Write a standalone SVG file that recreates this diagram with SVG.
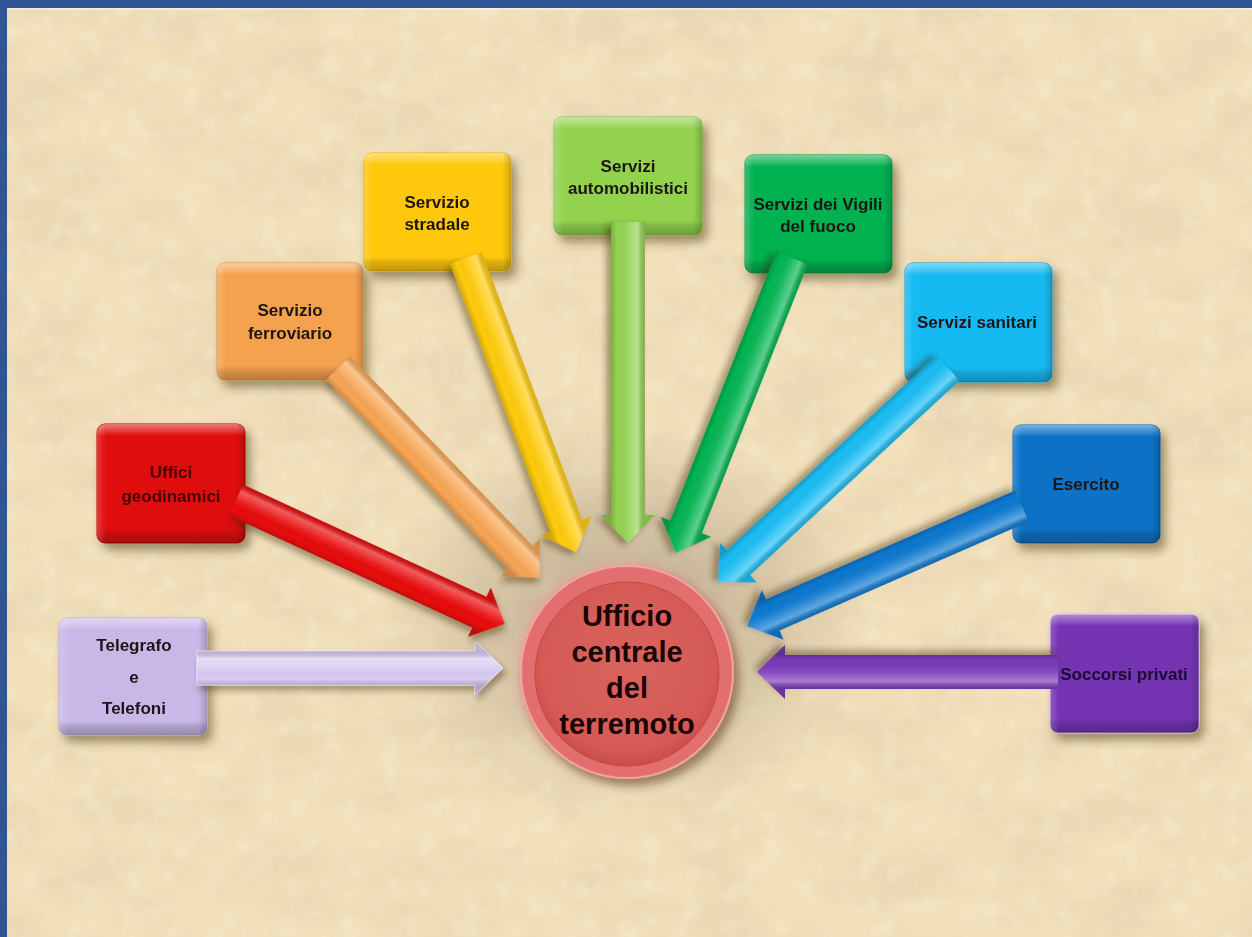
<svg xmlns="http://www.w3.org/2000/svg" width="1252" height="937" viewBox="0 0 1252 937">
<defs>
<filter id="paper" x="0" y="0" width="100%" height="100%">
<feTurbulence type="fractalNoise" baseFrequency="0.012 0.02" numOctaves="4" seed="7"/>
<feColorMatrix type="matrix" values="0 0 0 0 0.80  0 0 0 0 0.66  0 0 0 0 0.44  1.7 0 0 0 -0.62"/>
</filter>
<filter id="speck" x="0" y="0" width="100%" height="100%">
<feTurbulence type="fractalNoise" baseFrequency="0.05" numOctaves="2" seed="2"/>
<feColorMatrix type="matrix" values="0 0 0 0 1  0 0 0 0 0.98  0 0 0 0 0.9  2.0 0 0 0 -1.0"/>
</filter>
<filter id="shadow" x="-20%" y="-20%" width="150%" height="150%">
<feDropShadow dx="5" dy="7" stdDeviation="5" flood-color="#3a2a10" flood-opacity="0.45"/>
</filter>
<filter id="ashadow" x="-20%" y="-50%" width="140%" height="200%">
<feDropShadow dx="3" dy="5" stdDeviation="3" flood-color="#3a2a10" flood-opacity="0.4"/>
</filter>
<radialGradient id="halo" cx="0.5" cy="0.5" r="0.5">
<stop offset="0" stop-color="#8c7a66" stop-opacity="0.55"/>
<stop offset="0.6" stop-color="#a08e78" stop-opacity="0.3"/>
<stop offset="1" stop-color="#b8a488" stop-opacity="0"/>
</radialGradient>
<radialGradient id="glow" cx="0.5" cy="0.5" r="0.5">
<stop offset="0.8" stop-color="#f08a8a" stop-opacity="0.7"/>
<stop offset="1" stop-color="#f3a0a0" stop-opacity="0"/>
</radialGradient>
<radialGradient id="inner" cx="0.5" cy="0.45" r="0.55">
<stop offset="0" stop-color="#d9635e"/>
<stop offset="0.85" stop-color="#d55a55"/>
<stop offset="1" stop-color="#c94c48"/>
</radialGradient>
<linearGradient id="bevelV" x1="0" y1="0" x2="0" y2="1">
<stop offset="0" stop-color="#fff" stop-opacity="0.45"/>
<stop offset="0.07" stop-color="#fff" stop-opacity="0.15"/>
<stop offset="0.1" stop-color="#fff" stop-opacity="0"/>
<stop offset="0.88" stop-color="#000" stop-opacity="0"/>
<stop offset="0.92" stop-color="#000" stop-opacity="0.12"/>
<stop offset="1" stop-color="#000" stop-opacity="0.25"/>
</linearGradient>
<linearGradient id="bevelH" x1="0" y1="0" x2="1" y2="0">
<stop offset="0" stop-color="#fff" stop-opacity="0.2"/>
<stop offset="0.06" stop-color="#fff" stop-opacity="0"/>
<stop offset="0.94" stop-color="#000" stop-opacity="0"/>
<stop offset="1" stop-color="#000" stop-opacity="0.18"/>
</linearGradient>
<linearGradient id="shaft" gradientUnits="userSpaceOnUse" x1="0" y1="-27" x2="0" y2="27">
<stop offset="0.18" stop-color="#000" stop-opacity="0.12"/>
<stop offset="0.32" stop-color="#fff" stop-opacity="0.35"/>
<stop offset="0.5" stop-color="#fff" stop-opacity="0.1"/>
<stop offset="0.7" stop-color="#000" stop-opacity="0"/>
<stop offset="0.82" stop-color="#000" stop-opacity="0.18"/>
</linearGradient>
</defs>
<style>
.lbl{font-family:"Liberation Sans",Arial,sans-serif;font-weight:bold;font-size:17px;text-anchor:middle;fill:#1c1414}
.big{font-family:"Liberation Sans",Arial,sans-serif;font-weight:bold;font-size:29px;text-anchor:middle;fill:#1a0404}
.ov{fill:url(#shaft)}
</style>

<!-- background -->
<rect x="0" y="0" width="1252" height="937" fill="#F1E0BA"/>
<rect x="0" y="0" width="1252" height="937" filter="url(#paper)"/>
<rect x="0" y="0" width="1252" height="937" filter="url(#speck)" opacity="0.3"/>
<ellipse cx="627" cy="620" rx="250" ry="200" fill="url(#halo)"/>
<rect x="0" y="0" width="1252" height="8" fill="#2F5597"/>
<rect x="0" y="0" width="7" height="937" fill="#2F5597"/>
<rect x="7" y="8" width="1245" height="1.5" fill="#fff" opacity="0.5"/>

<!-- central node -->
<g id="node-centrale">
<circle cx="627" cy="672" r="118" fill="url(#glow)"/>
<circle cx="627" cy="672" r="106" fill="#E26E6D" stroke="#F4A3A3" stroke-width="2" filter="url(#shadow)"/>
<circle cx="627" cy="674" r="92" fill="url(#inner)" stroke="#c44a46" stroke-width="1"/>
<text class="big" x="627" y="626">Ufficio</text>
<text class="big" x="627" y="662">centrale</text>
<text class="big" x="627" y="698">del</text>
<text class="big" x="627" y="734">terremoto</text>
</g>

<!-- nodes -->
<g id="node-telegrafo" filter="url(#shadow)">
<rect x="59" y="618" width="148" height="117" rx="8" fill="#C8B8E8" stroke="#b8a6dc"/>
<rect x="59" y="618" width="148" height="117" rx="8" fill="url(#bevelV)"/>
<rect x="59" y="618" width="148" height="117" rx="8" fill="url(#bevelH)"/>
<text class="lbl" x="134" y="651">Telegrafo</text>
<text class="lbl" x="134" y="683">e</text>
<text class="lbl" x="134" y="714">Telefoni</text>
</g>
<g id="node-geodinamici" filter="url(#shadow)">
<rect x="97" y="424" width="148" height="119" rx="8" fill="#E00C0C" stroke="#c00000"/>
<rect x="97" y="424" width="148" height="119" rx="8" fill="url(#bevelV)"/>
<rect x="97" y="424" width="148" height="119" rx="8" fill="url(#bevelH)"/>
<text class="lbl" x="171" y="478" style="fill:#4a0404">Uffici</text>
<text class="lbl" x="171" y="502" style="fill:#4a0404">geodinamici</text>
</g>
<g id="node-ferroviario" filter="url(#shadow)">
<rect x="217" y="263" width="146" height="117" rx="8" fill="#F5A24F" stroke="#e08f3c"/>
<rect x="217" y="263" width="146" height="117" rx="8" fill="url(#bevelV)"/>
<rect x="217" y="263" width="146" height="117" rx="8" fill="url(#bevelH)"/>
<text class="lbl" x="290" y="316">Servizio</text>
<text class="lbl" x="290" y="339">ferroviario</text>
</g>
<g id="node-stradale" filter="url(#shadow)">
<rect x="364" y="153" width="147" height="118" rx="8" fill="#FFC80A" stroke="#e8b000"/>
<rect x="364" y="153" width="147" height="118" rx="8" fill="url(#bevelV)"/>
<rect x="364" y="153" width="147" height="118" rx="8" fill="url(#bevelH)"/>
<text class="lbl" x="437" y="208">Servizio</text>
<text class="lbl" x="437" y="230">stradale</text>
</g>
<g id="node-automobilistici" filter="url(#shadow)">
<rect x="554" y="117" width="148" height="118" rx="8" fill="#92D24E" stroke="#7fc03c"/>
<rect x="554" y="117" width="148" height="118" rx="8" fill="url(#bevelV)"/>
<rect x="554" y="117" width="148" height="118" rx="8" fill="url(#bevelH)"/>
<text class="lbl" x="628" y="172">Servizi</text>
<text class="lbl" x="628" y="194">automobilistici</text>
</g>
<g id="node-vigili" filter="url(#shadow)">
<rect x="745" y="155" width="147" height="118" rx="8" fill="#03B150" stroke="#009a40"/>
<rect x="745" y="155" width="147" height="118" rx="8" fill="url(#bevelV)"/>
<rect x="745" y="155" width="147" height="118" rx="8" fill="url(#bevelH)"/>
<text class="lbl" x="818" y="210">Servizi dei Vigili</text>
<text class="lbl" x="818" y="232">del fuoco</text>
</g>
<g id="node-sanitari" filter="url(#shadow)">
<rect x="905" y="263" width="147" height="119" rx="8" fill="#18BAF2" stroke="#00a5e0"/>
<rect x="905" y="263" width="147" height="119" rx="8" fill="url(#bevelV)"/>
<rect x="905" y="263" width="147" height="119" rx="8" fill="url(#bevelH)"/>
<text class="lbl" x="977" y="328">Servizi sanitari</text>
</g>
<g id="node-esercito" filter="url(#shadow)">
<rect x="1013" y="425" width="147" height="118" rx="8" fill="#0A72C6" stroke="#0062b0"/>
<rect x="1013" y="425" width="147" height="118" rx="8" fill="url(#bevelV)"/>
<rect x="1013" y="425" width="147" height="118" rx="8" fill="url(#bevelH)"/>
<text class="lbl" x="1086" y="490">Esercito</text>
</g>
<g id="node-soccorsi" filter="url(#shadow)">
<rect x="1050" y="614" width="149" height="119" rx="8" fill="#7434B2" stroke="#dcb8f0"/>
<rect x="1050" y="614" width="149" height="119" rx="8" fill="url(#bevelV)"/>
<rect x="1050" y="614" width="149" height="119" rx="8" fill="url(#bevelH)"/>
<text class="lbl" x="1124" y="680" style="fill:#1e0a30">Soccorsi privati</text>
</g>

<!-- connectors -->
<g id="connectors">
<g transform="translate(197,668)" filter="url(#ashadow)">
<path d="M0,-17 H278 V-27 L306,0 L278,27 V17 H0 Z" fill="#D9CBF2" stroke="#efe6ff" stroke-width="1"/>
<path class="ov" d="M0,-17 H278 V-27 L306,0 L278,27 V17 H0 Z"/>
</g>
<g transform="translate(236,500) rotate(24.75)" filter="url(#ashadow)">
<path d="M0,-17 H268 V-27 L296,0 L268,27 V17 H0 Z" fill="#E80808"/>
<path class="ov" d="M0,-17 H268 V-27 L296,0 L268,27 V17 H0 Z"/>
</g>
<g transform="translate(338,368) rotate(46.1)" filter="url(#ashadow)">
<path d="M0,-17 H263 V-27 L291,0 L263,27 V17 H0 Z" fill="#F7A655"/>
<path class="ov" d="M0,-17 H263 V-27 L291,0 L263,27 V17 H0 Z"/>
</g>
<g transform="translate(466,258) rotate(69.5)" filter="url(#ashadow)">
<path d="M0,-17 H286 V-27 L314,0 L286,27 V17 H0 Z" fill="#FFCB0C"/>
<path class="ov" d="M0,-17 H286 V-27 L314,0 L286,27 V17 H0 Z"/>
</g>
<g transform="translate(628,222) rotate(90)" filter="url(#ashadow)">
<path d="M0,-17 H293 V-27 L321,0 L293,27 V17 H0 Z" fill="#94D352"/>
<path class="ov" d="M0,-17 H293 V-27 L321,0 L293,27 V17 H0 Z"/>
</g>
<g transform="translate(792,258) rotate(111.5)" filter="url(#ashadow)">
<path d="M0,-17 H289 V-27 L317,0 L289,27 V17 H0 Z" fill="#05B553"/>
<path class="ov" d="M0,-17 H289 V-27 L317,0 L289,27 V17 H0 Z"/>
</g>
<g transform="translate(948,368) rotate(137.1)" filter="url(#ashadow)">
<path d="M0,-17 H286 V-27 L314,0 L286,27 V17 H0 Z" fill="#1BBDF4"/>
<path class="ov" d="M0,-17 H286 V-27 L314,0 L286,27 V17 H0 Z"/>
</g>
<g transform="translate(1022,506) rotate(156.4)" filter="url(#ashadow)">
<path d="M0,-17 H272 V-27 L300,0 L272,27 V17 H0 Z" fill="#0C78D0"/>
<path class="ov" d="M0,-17 H272 V-27 L300,0 L272,27 V17 H0 Z"/>
</g>
<g transform="translate(1058,672) rotate(180)" filter="url(#ashadow)">
<path d="M0,-17 H273 V-27 L301,0 L273,27 V17 H0 Z" fill="#7A38BA"/>
<path class="ov" d="M0,-17 H273 V-27 L301,0 L273,27 V17 H0 Z"/>
</g>
</g>
</svg>
